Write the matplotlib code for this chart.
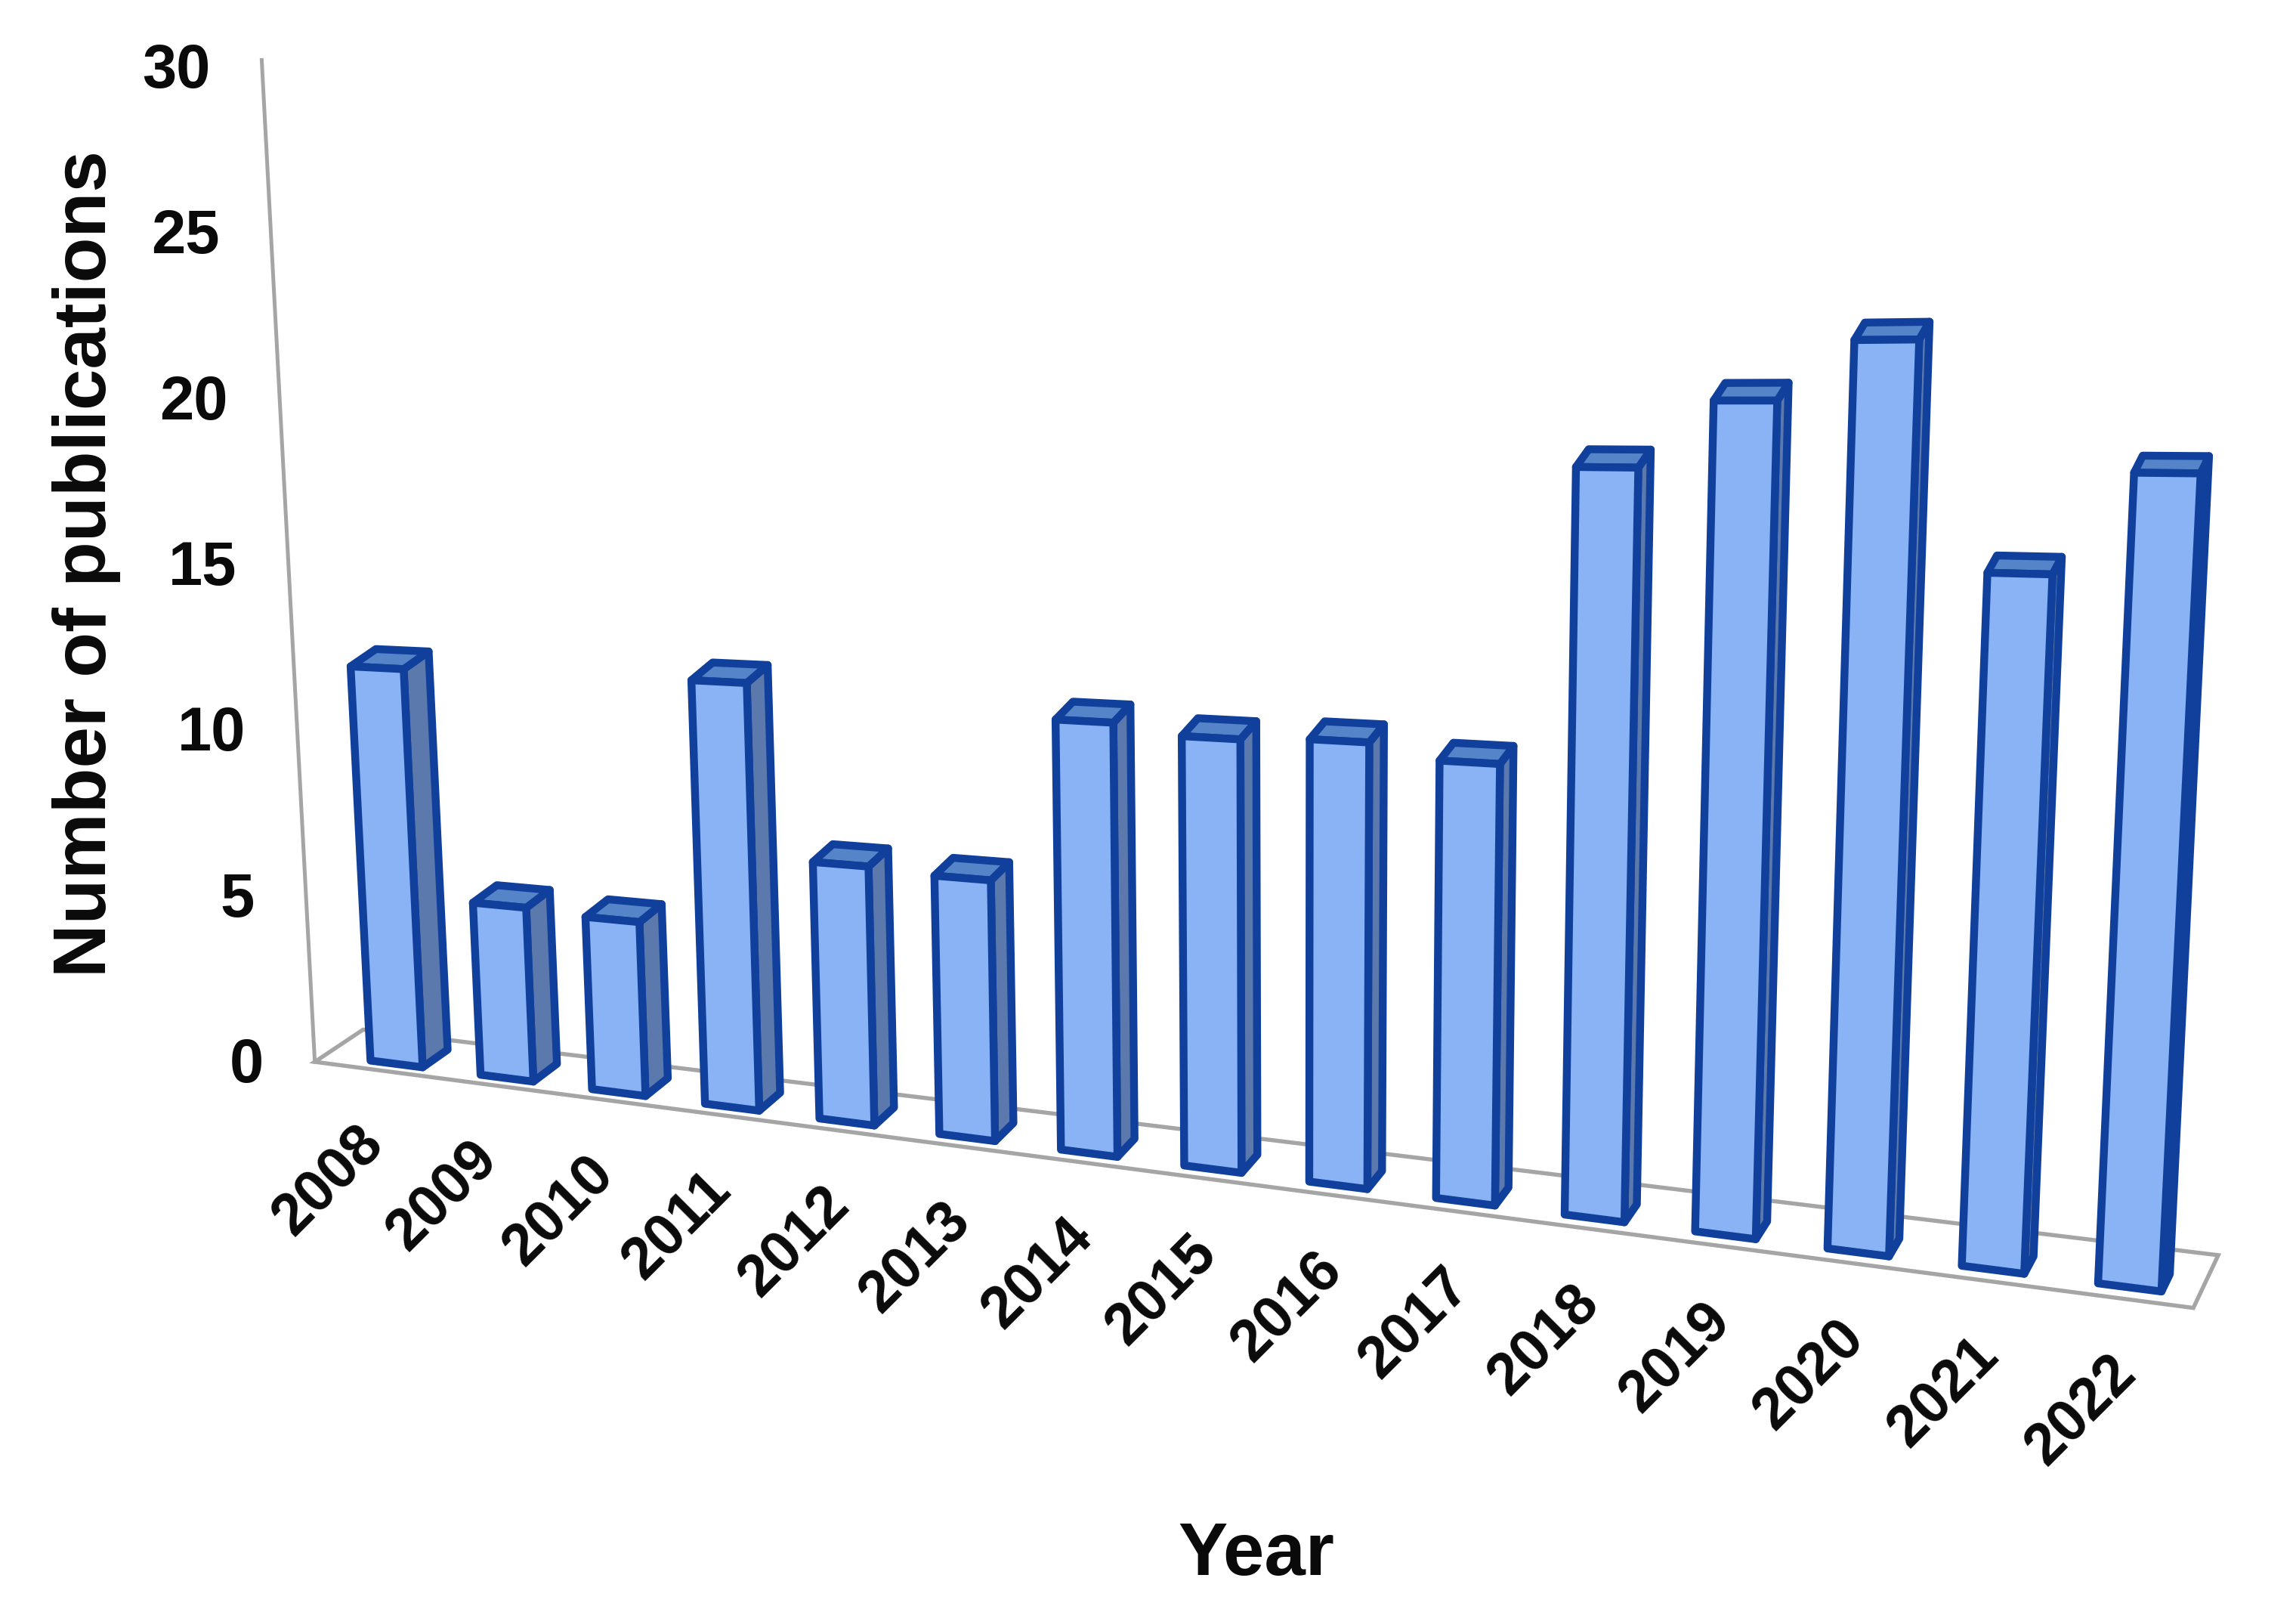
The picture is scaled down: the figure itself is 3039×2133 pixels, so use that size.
import numpy as np
import matplotlib
matplotlib.use('Agg')
import matplotlib.pyplot as plt
from matplotlib.patches import Polygon

years = ['2008', '2009', '2010', '2011', '2012', '2013', '2014', '2015',
         '2016', '2017', '2018', '2019', '2020', '2021', '2022']
publications = [11.7, 5, 4.9, 11.8, 7, 6.9, 11.25, 11, 11.1, 10.75, 18, 19.6, 21, 15.7, 18]
y_ticks = [0, 5, 10, 15, 20, 25, 30]

W, H = 3039, 2133
S = 1.938
BAR_W = 0.46
D0 = 0.22
N = len(years)

FRONT = '#8ab3f6'
SIDE = '#5c79ad'
TOP = '#5585c8'
EDGE = '#10409c'
GRID = '#a5a5a5'

# box corners and the hand fitted fake perspective of the old 3d chart
FRONT_L, FRONT_R = np.array([215, 725.]), np.array([1498, 893.])
BACK_L, BACK_R = np.array([248, 703.]), np.array([1515, 857.])
SQUEEZE = 0.9
K_L, K_R = 22.8, 31.2
LEAN_L, LEAN_R = 0.053, -0.05


def proj(u, d, v):
    t = u / N
    s = SQUEEZE * t / (1 + (SQUEEZE - 1) * t)
    base = (1 - d) * (FRONT_L + s * (FRONT_R - FRONT_L)) + d * (BACK_L + s * (BACK_R - BACK_L))
    k = K_L + s * (K_R - K_L)
    lean = LEAN_L + s * (LEAN_R - LEAN_L)
    return (base[0] - lean * k * v) * S, (base[1] - k * v) * S


fig = plt.figure(figsize=(W/300, H/300), dpi=300)
ax = fig.add_axes([0, 0, 1, 1])
ax.set_xlim(0, W)
ax.set_ylim(H, 0)
ax.axis('off')
plt.rcParams['font.family'] = ['Liberation Sans', 'DejaVu Sans']

# floor and value axis
floor = [proj(0, 0, 0), proj(N, 0, 0), proj(N, 1, 0), proj(0, 1, 0)]
ax.add_patch(Polygon(floor, closed=True, fc='white', ec=GRID, lw=1.3, joinstyle='miter', zorder=1))
ax.plot(*zip(proj(0, 0, 0), proj(0, 0, 30)), color=GRID, lw=1.2, zorder=1)

for t in y_ticks:
    x, y = proj(0, 0, t)
    ax.text(x - 35*S, y + (3 + t/6)*S, str(t), ha='right', va='center', fontsize=19.5, fontweight='bold', color='#0a0a0a')

for i, (yr, val) in enumerate(zip(years, publications)):
    # first few bars sit a bit to the right of their slots in the original
    mid = i + 0.5 + 0.13 * max(0, 1 - i/4)
    u0 = mid - BAR_W/2
    u1 = mid + BAR_W/2
    d1 = 0.75 - 0.2 * i / (N - 1)
    z = 10 + i
    side = [proj(u1, D0, 0), proj(u1, d1, 0), proj(u1, d1, val), proj(u1, D0, val)]
    top = [proj(u0, D0, val), proj(u1, D0, val), proj(u1, d1, val), proj(u0, d1, val)]
    front = [proj(u0, D0, 0), proj(u1, D0, 0), proj(u1, D0, val), proj(u0, D0, val)]
    for poly, col in [(side, SIDE), (top, TOP), (front, FRONT)]:
        ax.add_patch(Polygon(poly, closed=True, fc=col, ec=EDGE, lw=2.5, joinstyle='round', zorder=z))
    x, y = proj(i + 0.5, 0, 0)
    ax.text(x + 2*S, y + 45*S, yr, rotation=45, rotation_mode='anchor', ha='right', va='center',
            fontsize=18.5, fontweight='bold', color='#0a0a0a')

ax.text(59*S, 385*S, 'Number of publications', rotation=90, ha='center', va='center',
        fontsize=23.5, fontweight='bold', color='#0a0a0a')
ax.text(858*S, 1062*S, 'Year', ha='center', va='center', fontsize=23.5, fontweight='bold', color='#0a0a0a')

fig.savefig('out.png', dpi=300)
